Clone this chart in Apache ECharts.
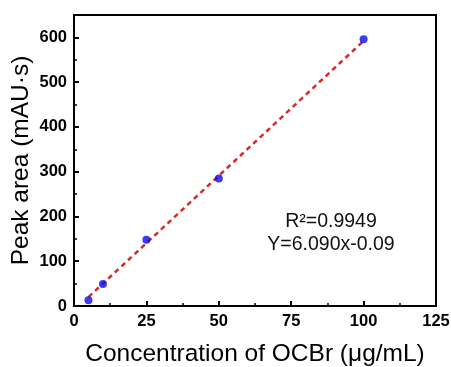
<!DOCTYPE html>
<html>
<head>
    <meta charset="utf-8">
    <title>OCBr calibration</title>
    <script src="https://cdn.jsdelivr.net/npm/echarts@6/dist/echarts.min.js"></script>
</head>
<body style="margin:0;">
<div id="main" style="width:451px;height:367px;"></div>

<script type="text/javascript">
    // measured points (concentration, peak area)
    var conc = [5, 10, 25, 50, 100];
    var area = [13, 49, 148, 285, 596];
    // fitted line end points as drawn
    var fitX = [5, 100];
    var fitY = [20, 592];
    var xTicks = [0, 25, 50, 75, 100, 125];
    var yTicks = [0, 100, 200, 300, 400, 500, 600];
    var notes = ['R\u00B2=0.9949', 'Y=6.090x-0.09'];

    var font = '"Liberation Sans", Arial, sans-serif';

    var option = {
        animation: false,
        grid: {
            left: 74, right: 15, top: 15, bottom: 61,
            outerBoundsMode: 'none',
            show: true, borderColor: '#000', borderWidth: 2
        },
        xAxis: {
            type: 'value',
            min: xTicks[0], max: xTicks[xTicks.length - 1], interval: 25,
            name: 'Concentration of OCBr (\u03BCg/mL)',
            nameLocation: 'middle', nameGap: 36,
            nameTextStyle: {fontFamily: font, fontSize: 24.5, color: '#000'},
            axisLine: {lineStyle: {color: '#000', width: 2}},
            axisTick: {inside: true, length: 5, lineStyle: {width: 2}},
            minorTick: {show: true, splitNumber: 2, length: 3, lineStyle: {color: '#000', width: 1.5}},
            axisLabel: {fontFamily: font, fontSize: 16.5, fontWeight: 'bold', color: '#000', margin: 7},
            splitLine: {show: false}
        },
        yAxis: {
            type: 'value',
            min: 0, max: 650, interval: 100,
            name: 'Peak area (mAU\u00B7s)',
            nameLocation: 'middle', nameGap: 40, nameMoveOverlap: false,
            nameTextStyle: {fontFamily: font, fontSize: 24.5, color: '#000'},
            axisLine: {lineStyle: {color: '#000', width: 2}},
            axisTick: {inside: true, length: 5, lineStyle: {width: 2}},
            minorTick: {show: true, splitNumber: 2, length: 3, lineStyle: {color: '#000', width: 1.5}},
            axisLabel: {fontFamily: font, fontSize: 16.5, fontWeight: 'bold', color: '#000', margin: 7, showMaxLabel: false},
            splitLine: {show: false}
        },
        series: [{
            type: 'line',
            data: fitX.map(function (x, i) { return [x, fitY[i]]; }),
            symbol: 'none',
            lineStyle: {color: '#d42b2b', width: 2.5, type: [5, 4]},
            z: 2
        }, {
            type: 'scatter',
            data: conc.map(function (x, i) { return [x, area[i]]; }),
            symbolSize: 8,
            itemStyle: {color: '#0a0af0'},
            z: 3
        }],
        graphic: [{
            type: 'text', x: 331, y: 222,
            style: {text: notes[0], fontFamily: font, fontSize: 19.5, fill: '#111',
                    align: 'center', verticalAlign: 'middle'}
        }, {
            type: 'text', x: 331, y: 245,
            style: {text: notes[1], fontFamily: font, fontSize: 19.5, fill: '#111',
                    align: 'center', verticalAlign: 'middle'}
        }]
    };

    var myChart = echarts.init(document.getElementById('main'));
    myChart.setOption(option);
</script>
</body>
</html>
